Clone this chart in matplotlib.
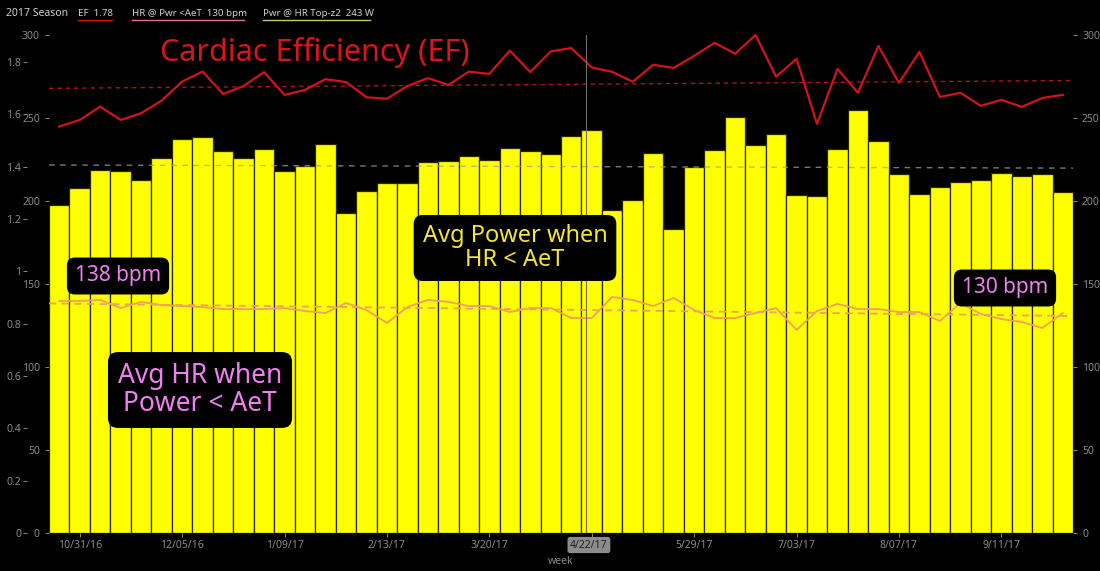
import numpy as np
import matplotlib
matplotlib.use("Agg")
import matplotlib.pyplot as plt
from matplotlib.lines import Line2D

plt.rcParams['font.family'] = ['Noto Sans', 'DejaVu Sans']

# weekly values, Oct 2016 - Oct 2017
power = [197.6, 207.8, 218.7, 218.0, 212.7, 225.9, 237.3, 238.6, 230.0, 225.9,
         231.3, 218.0, 221.0, 234.3, 192.8, 206.0, 210.8, 210.8, 223.5, 224.0,
         227.0, 224.7, 232.0, 230.0, 228.3, 239.0, 242.8, 194.6, 200.6, 229.0,
         183.0, 220.5, 230.7, 250.6, 233.7, 240.4, 203.6, 203.0, 231.3, 254.8,
         236.0, 216.3, 204.2, 208.4, 211.4, 212.7, 216.9, 215.0, 216.3, 205.4]
ef = [1.554, 1.579, 1.630, 1.579, 1.605, 1.653, 1.726, 1.764, 1.678, 1.709,
      1.762, 1.675, 1.694, 1.735, 1.724, 1.666, 1.660, 1.709, 1.739, 1.713,
      1.764, 1.755, 1.844, 1.762, 1.841, 1.854, 1.780, 1.763, 1.725, 1.790,
      1.778, 1.824, 1.874, 1.832, 1.904, 1.744, 1.813, 1.564, 1.774, 1.683,
      1.862, 1.721, 1.839, 1.667, 1.683, 1.633, 1.656, 1.629, 1.663, 1.675]
hr = [139.8, 139.8, 140.4, 135.5, 139.2, 137.3, 136.7, 136.1, 134.9, 134.9,
      134.9, 135.5, 133.7, 132.5, 138.6, 134.3, 126.5, 136.1, 140.4, 139.2,
      136.7, 136.7, 133.1, 135.5, 135.5, 129.5, 129.5, 142.2, 140.4, 136.7,
      141.6, 134.3, 129.5, 129.5, 132.5, 135.5, 122.3, 133.7, 138.0, 134.9,
      134.9, 133.1, 133.1, 127.7, 138.6, 131.9, 128.9, 127.1, 123.5, 132.5]

# dashed trend lines (start, end)
ef_trend = [1.70, 1.73]
power_trend = [221.7, 219.8]
hr_trend = [138.3, 130.7]

tick_idx = [1, 6, 11, 16, 21, 26, 31, 36, 41, 46]
tick_labels = ['10/31/16', '12/05/16', '1/09/17', '2/13/17', '3/20/17',
               '', '5/29/17', '7/03/17', '8/07/17', '9/11/17']
hover_idx = 26
hover_label = '4/22/17'

W, H = 1100, 571
fig = plt.figure(figsize=(W / 100, H / 100), dpi=100, facecolor='black')
ax = fig.add_axes([49 / W, 38 / H, (1073 - 49) / W, (533 - 30) / H])
ax.set_facecolor('black')

x = np.arange(len(power))
ax.bar(x, power, width=1.0, color='#ffff00', edgecolor='#2a2a00', linewidth=0.9, zorder=2)
ax.plot([x[0] - 0.5, x[-1] + 0.5], power_trend, ls=(0, (4, 4)), color='#a0a0a0',
        lw=1, alpha=0.75, zorder=3)
ax.set_xlim(-0.5, len(power) - 0.5)
ax.set_ylim(0, 303)
ax.set_yticks([0, 50, 100, 150, 200, 250, 300])

# EF axis on the outer left
ax_ef = ax.twinx()
ax_ef.yaxis.tick_left()
ax_ef.spines['left'].set_position(('outward', 16))
ax_ef.set_ylim(0, 1.923)
ax_ef.set_yticks(np.arange(0, 1.81, 0.2))
ax_ef.set_yticklabels(['0', '0.2', '0.4', '0.6', '0.8', '1', '1.2', '1.4', '1.6', '1.8'])
ax_ef.plot(x, ef, color='#d0141c', lw=1.6)
ax_ef.plot([x[0] - 0.5, x[-1] + 0.5], ef_trend, ls=(0, (3, 3)), color='#b01418', lw=1)

# HR axis on the right
ax_hr = ax.twinx()
ax_hr.set_ylim(0, 303)
ax_hr.set_yticks([0, 50, 100, 150, 200, 250, 300])
ax_hr.plot(x, hr, color='#f0a060', lw=1.3)
ax_hr.plot([x[0] - 0.5, x[-1] + 0.5], hr_trend, ls=(0, (4, 3)), color='#f0a060', lw=1.3)
ax_hr.axvline(hover_idx - 0.3, color='#707070', lw=0.8, ymax=0.99)

for a in (ax, ax_ef, ax_hr):
    for s in a.spines.values():
        s.set_visible(False)
    a.tick_params(colors='#8a8a8a', labelsize=7.5, length=3, width=0.7)
ax_ef.tick_params(pad=1)
ax.set_xticks(tick_idx)
ax.set_xticklabels(tick_labels)
ax.tick_params(axis='x', length=3, pad=2)
ax.set_xlabel('week', color='#8a8a8a', fontsize=7.5, labelpad=4)

# hover date label
fig.text((50 + (hover_idx + 0.5) * 20.45 - 3) / W, 1 - 545 / H, hover_label,
         color='#222222', fontsize=7.5, ha='center', va='center',
         bbox=dict(boxstyle='round,pad=0.25', fc='#8c8c8c', ec='none'))

# header legend
fig.text(6 / W, 1 - 14 / H, '2017 Season', color='#cfcfcf', fontsize=7.5, va='center')
items = [
    (78, 112, f'EF  {ef[hover_idx]:.2f}', '#d0141c'),
    (132, 244, f'HR @ Pwr <AeT  {hr[hover_idx]:.0f} bpm', '#e87090'),
    (263, 370, f'Pwr @ HR Top-z2  {power[hover_idx]:.0f} W', '#c8c870'),
]
for x0, x1, label, col in items:
    fig.text(x0 / W, 1 - 14 / H, label, color='#cfcfcf', fontsize=7, va='center')
    fig.add_artist(Line2D([x0 / W, x1 / W], [1 - 20 / H, 1 - 20 / H],
                          color=col, lw=1, transform=fig.transFigure))

# hand-drawn style notes
fig.text(315 / W, 1 - 52 / H, 'Cardiac Efficiency (EF)', color='#d8141c',
         fontsize=22, ha='center', va='center', fontweight='light')
box = dict(boxstyle='round,pad=0.35', fc='black', ec='black')
fig.text(118 / W, 1 - 276 / H, '138 bpm', color='#f080f0', fontsize=15,
         ha='center', va='center', bbox=box)
fig.text(1005 / W, 1 - 288 / H, '130 bpm', color='#f080f0', fontsize=15,
         ha='center', va='center', bbox=box)
fig.text(200 / W, 1 - 390 / H, 'Avg HR when\nPower < AeT', color='#f080f0', fontsize=19,
         ha='center', va='center', linespacing=1.0, bbox=box)
fig.text(515 / W, 1 - 248 / H, 'Avg Power when\nHR < AeT', color='#f5e63a', fontsize=17,
         ha='center', va='center', linespacing=1.0, bbox=box)

fig.savefig('out.png', dpi=100, facecolor='black')
